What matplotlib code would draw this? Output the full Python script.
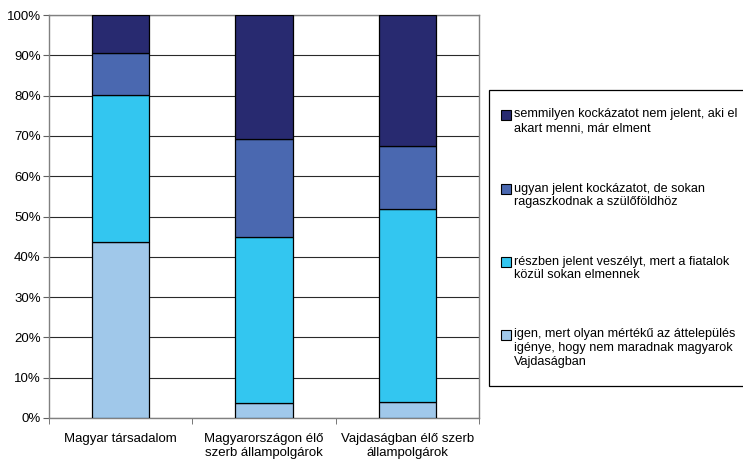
import matplotlib
matplotlib.use("Agg")
import matplotlib.pyplot as plt
from matplotlib.patches import Rectangle
import numpy as np

plt.rcParams['font.family'] = ['Liberation Sans', 'DejaVu Sans']

categories = ["Magyar társadalom", "Magyarországon élő\nszerb állampolgárok", "Vajdaságban élő szerb\nállampolgárok"]
series_names = [
    "igen, mert olyan mértékű az áttelepülés\nigénye, hogy nem maradnak magyarok\nVajdaságban",
    "részben jelent veszélyt, mert a fiatalok\nközül sokan elmennek",
    "ugyan jelent kockázatot, de sokan\nragaszkodnak a szülőföldhöz",
    "semmilyen kockázatot nem jelent, aki el\nakart menni, már elment",
]
igen = [43.7, 3.8, 3.9]
reszben = [36.5, 41.0, 48.0]
ugyan = [10.4, 24.4, 15.7]
semmilyen = [9.4, 30.8, 32.4]
values = [igen, reszben, ugyan, semmilyen]
colors = ["#A0C8EA", "#33C6F0", "#4A68B0", "#282A70"]

fig = plt.figure(figsize=(7.43, 4.59), dpi=100)
ax = fig.add_axes([49/743, 41/459, 430/743, 403/459])

x = np.arange(len(categories))
bottom = np.zeros(len(categories))
for vals, c, name in zip(values, colors, series_names):
    v = np.array(vals)
    ax.bar(x, v, 0.4, bottom=bottom, color=c, edgecolor="black", linewidth=0.9, zorder=3)
    bottom += v

ax.set_xlim(-0.5, 2.5)
ax.set_ylim(0, 100)
ax.set_yticks(np.arange(0, 101, 10))
ax.set_yticklabels([f"{t}%" for t in range(0, 101, 10)], fontsize=9.5)
ax.yaxis.grid(True, color="#2a2a2a", linewidth=0.8, zorder=0)
ax.set_xticks(x)
ax.set_xticklabels(categories, fontsize=9.5)
ax.tick_params(axis='x', length=0, pad=11)
ax.set_xticks([-0.5, 0.5, 1.5, 2.5], minor=True)
ax.tick_params(axis='x', which='minor', length=4, color="#606060")
ax.tick_params(axis='y', length=4, color="#606060", pad=2)
for s in ax.spines.values():
    s.set_color("#808080")
    s.set_linewidth(1.0)

# Legend (manual)
W, H = 743, 459
def fx(px): return px / W
def fy(py): return 1 - py / H
fig.patches.append(Rectangle((fx(488.5), fy(386)), fx(270), 296 / H, transform=fig.transFigure,
                             facecolor="white", edgecolor="black", linewidth=0.9))
entries = list(zip(series_names, colors))[::-1]
tops = [115, 189, 262, 335]
for (name, c), t in zip(entries, tops):
    fig.patches.append(Rectangle((fx(501), fy(t + 5)), fx(10), 10 / H, transform=fig.transFigure,
                                 facecolor=c, edgecolor="black", linewidth=0.8))
    fig.text(fx(513.5), fy(t - 6.5), name, fontsize=9.1, va="top", ha="left", linespacing=1.2)

fig.savefig("out.png", dpi=100)
